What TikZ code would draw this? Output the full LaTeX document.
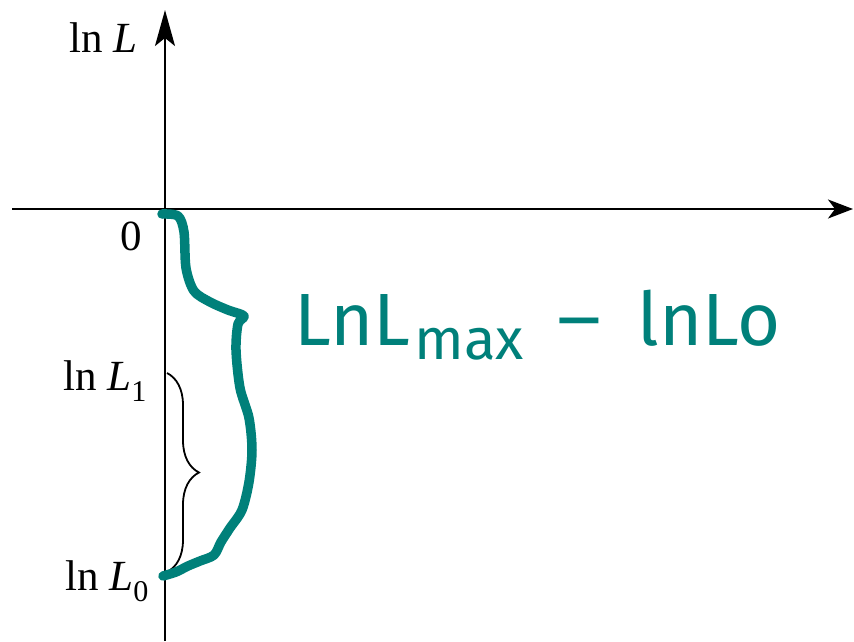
\documentclass[tikz,border=0pt]{standalone}
\usepackage{fontspec}
\setmainfont{Liberation Serif}
\newfontfamily\handfont{Fira Sans}
\usetikzlibrary{arrows.meta,decorations.pathreplacing}
\definecolor{penteal}{RGB}{0,128,122}
\tikzset{
  axis/.style={line width=2pt},
  lbl/.style={inner sep=0pt,anchor=base east,font=\fontsize{43}{48}\selectfont},
  pen/.style={color=penteal,line width=9.5pt,line cap=round,line join=round},
  hand/.style={color=penteal,inner sep=0pt,anchor=base west,font=\handfont\fontsize{74}{90}\selectfont}
}
\begin{document}
\begin{tikzpicture}[x=1pt,y=-1pt]
\useasboundingbox (0,0) rectangle (854,641);
% axes
\coordinate (O) at (165,209);
\coordinate (ytop) at (165,10);
\coordinate (ybot) at (165,641);
\coordinate (xleft) at (12,209);
\coordinate (xright) at (853,209);
\draw[axis,-{Stealth[length=36pt,width=20pt,inset=8pt]}] (ybot) -- (ytop);
\draw[axis,-{Stealth[length=25pt,width=19pt,inset=7pt]}] (xleft) -- (xright);
% labels
\node[lbl] (lnL) at (138,52) {ln \textit{L}};
\node[lbl] (zero) at (142,250) {0};
\node[lbl] (lnLone) at (147,390) {ln \textit{L}\textsubscript{1}};
\node[lbl] (lnLzero) at (149,590) {ln \textit{L}\textsubscript{0}};
% small brace
\coordinate (btop) at (167,373);
\coordinate (bbot) at (167,572);
\draw[line width=1.8pt,decorate,decoration={brace,amplitude=32pt}] (btop) -- (bbot);
% hand drawn brace
\draw[pen] plot[smooth,tension=0.5] coordinates {(162,214) (178,216) (184,232) (186,268) (194,291) (210,302) (228,310) (244,316) (238,324) (236,350) (240,388) (249,418) (252,450) (249,482) (242,510) (230,528) (221,542) (214,555) (200,561) (188,566) (176,572) (163,576)};
\node[hand] (diff) at (294,345) {LnL\hspace{4pt}\raisebox{-14pt}{\fontsize{58}{70}\selectfont max}\hspace{30pt}\scalebox{1.4}[1]{−}\hspace{32pt}lnLo};
\end{tikzpicture}
\end{document}
